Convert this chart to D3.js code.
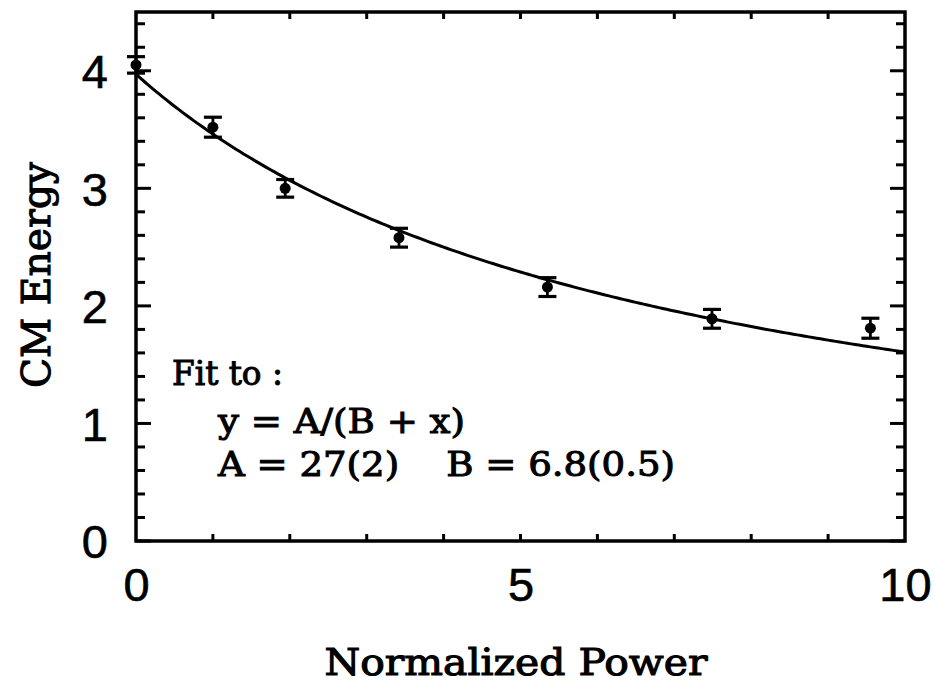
<!DOCTYPE html>
<html>
<head>
<meta charset="utf-8">
<script src="https://cdn.jsdelivr.net/npm/d3@7/dist/d3.min.js"></script>
<style>
  html, body { margin: 0; padding: 0; background: #fff; }
  svg { display: block; }
</style>
</head>
<body>
<svg id="chart" width="935" height="689"></svg>
<script>
// Measured points: normalized power vs. CM energy, with symmetric error bars
const powerValues = [0.0, 1.0, 1.94, 3.42, 5.35, 7.49, 9.55];
const energyValues = [4.05, 3.52, 3.00, 2.58, 2.16, 1.89, 1.81];
const energyErrors = [0.07, 0.085, 0.075, 0.08, 0.08, 0.08, 0.085];

// Fit parameters y = A/(B + x)
const fitA = 27;
const fitB = 6.8;

const xTickValues = [0, 5, 10];
const yTickValues = [0, 1, 2, 3, 4];
const fitLines = ["Fit to :", "y = A/(B + x)", "A = 27(2)    B = 6.8(0.5)"];

const svg = d3.select("#chart");
const margin = { left: 136, right: 30, top: 12, bottom: 148 };
const W = 935, H = 689;

const x = d3.scaleLinear().domain([0, 10]).range([margin.left, W - margin.right]);
const y = d3.scaleLinear().domain([0, 4.5]).range([H - margin.bottom, margin.top]);

const ink = "#000";
const x0 = x.range()[0], x1 = x.range()[1];
const y0 = y.range()[0], y1 = y.range()[1];

// Ticks: minor every 0.2 on y, every 1 on x; all point inward
const g = svg.append("g");
const yMinor = d3.range(0, 4.5001, 0.2).map(v => +v.toFixed(2));
yMinor.forEach(v => {
  const major = Math.abs(v - Math.round(v)) < 1e-6;
  const len = major ? 15 : 9;
  g.append("line").attr("x1", x0).attr("x2", x0 + len)
    .attr("y1", y(v)).attr("y2", y(v)).attr("stroke", ink).attr("stroke-width", 3);
  g.append("line").attr("x1", x1).attr("x2", x1 - len)
    .attr("y1", y(v)).attr("y2", y(v)).attr("stroke", ink).attr("stroke-width", 3);
});
d3.range(1, 10).forEach(v => {
  g.append("line").attr("x1", x(v)).attr("x2", x(v))
    .attr("y1", y0).attr("y2", y0 - 7).attr("stroke", ink).attr("stroke-width", 3);
  g.append("line").attr("x1", x(v)).attr("x2", x(v))
    .attr("y1", y1).attr("y2", y1 + 7).attr("stroke", ink).attr("stroke-width", 3);
});

// Frame
svg.append("rect").attr("x", x0).attr("y", y1)
  .attr("width", x1 - x0).attr("height", y0 - y1)
  .attr("fill", "none").attr("stroke", ink).attr("stroke-width", 3.5);

// Axis tick labels via d3 axes (lines hidden; frame drawn above)
const xAxis = svg.append("g").attr("transform", `translate(0,${y0})`)
  .call(d3.axisBottom(x).tickValues(xTickValues).tickSize(0).tickPadding(26).tickFormat(d3.format("d")));
const yAxis = svg.append("g").attr("transform", `translate(${x0},0)`)
  .call(d3.axisLeft(y).tickValues(yTickValues).tickSize(0).tickPadding(28).tickFormat(d3.format("d")));
[xAxis, yAxis].forEach(a => {
  a.select(".domain").remove();
  a.selectAll("text").attr("font-family", "'Liberation Sans', Arial, sans-serif")
    .attr("font-size", 47).attr("fill", ink)
    .attr("stroke", ink).attr("stroke-width", 0.6);
});
yAxis.selectAll("text").attr("dy", "0.36em");
xAxis.selectAll("text").attr("dy", "0.72em");

// Fit curve
const curveX = d3.range(0, 10.0001, 0.05);
svg.append("path")
  .datum(curveX)
  .attr("fill", "none").attr("stroke", ink).attr("stroke-width", 3)
  .attr("d", d3.line().x(d => x(d)).y(d => y(fitA / (fitB + d))));

// Error bars and points
const pts = powerValues.map((p, i) => ({ p, e: energyValues[i], s: energyErrors[i] }));
const eb = svg.append("g");
pts.forEach(d => {
  const cx = x(d.p);
  eb.append("line").attr("x1", cx).attr("x2", cx)
    .attr("y1", y(d.e - d.s)).attr("y2", y(d.e + d.s)).attr("stroke", ink).attr("stroke-width", 2.8);
  [d.e - d.s, d.e + d.s].forEach(v => {
    eb.append("line").attr("x1", cx - 9).attr("x2", cx + 9)
      .attr("y1", y(v)).attr("y2", y(v)).attr("stroke", ink).attr("stroke-width", 3.2);
  });
  eb.append("circle").attr("cx", cx).attr("cy", y(d.e)).attr("r", 5.5).attr("fill", ink);
});

// Axis titles
const serif = "'DejaVu Serif', serif";
svg.append("text").attr("x", 516).attr("y", 675)
  .attr("text-anchor", "middle").attr("font-family", serif).attr("font-size", 37)
  .attr("textLength", 383).attr("lengthAdjust", "spacingAndGlyphs")
  .attr("stroke", ink).attr("stroke-width", 1.1)
  .attr("fill", ink).text("Normalized Power");
svg.append("text").attr("transform", "translate(50,275) rotate(-90)")
  .attr("text-anchor", "middle").attr("font-family", serif).attr("font-size", 40)
  .attr("textLength", 226).attr("lengthAdjust", "spacingAndGlyphs")
  .attr("stroke", ink).attr("stroke-width", 1.1)
  .attr("fill", ink).text("CM Energy");

// Fit annotation
const notePos = [
  { x: 172, y: 385, w: 111 },
  { x: 218, y: 433, w: 247 },
  { x: 218, y: 476, w: 457 }
];
fitLines.forEach((t, i) => {
  svg.append("text").attr("x", notePos[i].x).attr("y", notePos[i].y)
    .attr("font-family", serif).attr("font-size", 33)
    .attr("textLength", notePos[i].w).attr("lengthAdjust", "spacingAndGlyphs")
    .attr("xml:space", "preserve").style("white-space", "pre")
    .attr("stroke", ink).attr("stroke-width", 1)
    .attr("fill", ink).text(t);
});
</script>
</body>
</html>
